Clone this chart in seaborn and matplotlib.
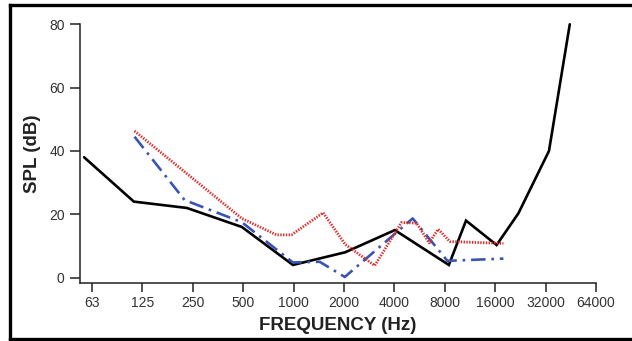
import matplotlib
matplotlib.use("Agg")
import matplotlib.pyplot as plt
import seaborn as sns
import numpy as np
from matplotlib.lines import Line2D

# Data (Hz, dB SPL)
black_freq = [56, 111, 230, 490, 990, 2030, 4020, 8450, 10700, 16300, 22000, 33500, 44600]
black_spl = [38, 24, 22, 16, 4, 8, 15, 4, 18, 10.3, 20.3, 40, 80]

blue_freq = [112, 223, 490, 990, 1430, 2020, 5140, 8280, 17900]
blue_spl = [44.5, 24.5, 17.5, 4.8, 5, 0.2, 18.7, 5.3, 6]

red_freq = [112, 490, 790, 970, 1500, 2030, 3050, 4400, 5430, 6450, 7300, 8570, 17900]
red_spl = [46.3, 18.7, 13.5, 13.5, 20.5, 10.5, 3.8, 17.4, 17.2, 11, 15.3, 11.4, 10.8]

tick_freqs = [62.5, 125, 250, 500, 1000, 2000, 4000, 8000, 16000, 32000, 64000]
tick_labels = ["63", "125", "250", "500", "1000", "2000", "4000", "8000", "16000", "32000", "64000"]
y_ticks = [0, 20, 40, 60, 80]

sns.set_theme(style="white")
plt.rcParams['font.family'] = ['Liberation Sans', 'DejaVu Sans']

fig = plt.figure(figsize=(6.32, 3.41), dpi=100)
ax = fig.add_axes([0.1266, 0.171, 0.8165, 0.7578])

sns.lineplot(x=black_freq, y=black_spl, ax=ax, color="black", lw=1.9, sort=False,
             estimator=None)
sns.lineplot(x=blue_freq, y=blue_spl, ax=ax, color="#3a55b0", lw=1.9, sort=False,
             estimator=None, linestyle=(0, (5.5, 2.2, 1, 2.2)))
sns.lineplot(x=red_freq, y=red_spl, ax=ax, color="#e02828", lw=2.0, sort=False,
             estimator=None, linestyle=(0, (0.5, 0.5)))
for ln in ax.lines:
    ln.set_clip_on(False)
    ln.set_solid_joinstyle("miter")

ax.set_xscale("log", base=2)
ax.set_xlim(62.5 * 2 ** -0.24, 64000)
ax.set_ylim(-1.6, 80)
ax.set_xticks(tick_freqs)
ax.set_xticklabels(tick_labels)
ax.minorticks_off()
ax.set_yticks(y_ticks)

for s in ["top", "right"]:
    ax.spines[s].set_visible(False)
for s in ["left", "bottom"]:
    ax.spines[s].set_color("#222222")
    ax.spines[s].set_linewidth(1.1)
ax.spines["left"].set_bounds(-1.6, 80)

ax.tick_params(axis="both", direction="out", length=7, width=1.1, color="#222222",
               labelsize=10, labelcolor="#333333", bottom=True, left=True, pad=4)
ax.tick_params(axis="x", length=6.5, pad=3)

ax.set_xlabel("FREQUENCY (Hz)", fontsize=13.5, fontweight="bold", color="#222222", labelpad=5)
ax.set_ylabel("SPL (dB)", fontsize=13.5, fontweight="bold", color="#222222", labelpad=6)
ax.set_facecolor("white")

# outer frame
W, H = 632.0, 341.0
xl, xr, yt, yb = 9.5 / W, 1.01, 1 - 4.5 / H, 1 - 339.0 / H
for xs, ys in [((xl, xr), (yt, yt)), ((xl, xr), (yb, yb)), ((xl, xl), (yb, yt))]:
    fig.add_artist(Line2D(xs, ys, transform=fig.transFigure, color="black",
                          linewidth=2.4, solid_capstyle="projecting", clip_on=False))

fig.savefig("out.png", dpi=100)
